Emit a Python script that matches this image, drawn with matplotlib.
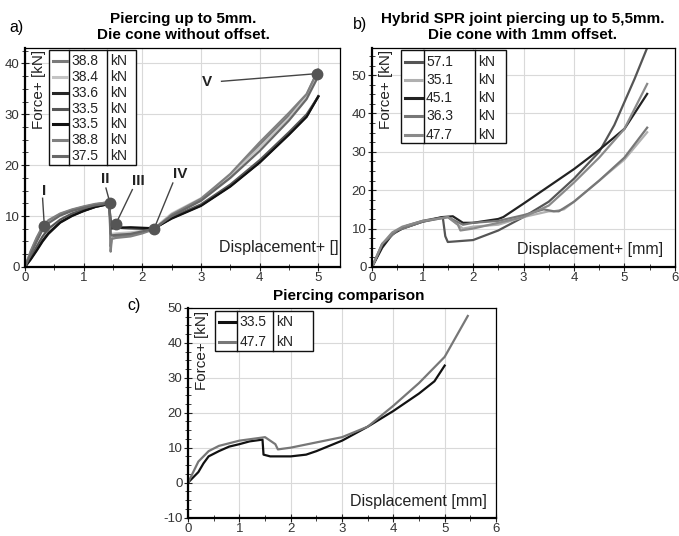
import matplotlib
matplotlib.use("Agg")
import matplotlib.pyplot as plt
from matplotlib.lines import Line2D
from matplotlib.patches import Rectangle
from matplotlib.ticker import MultipleLocator

plt.rcParams["font.family"] = ["Liberation Sans", "DejaVu Sans"]
plt.rcParams["axes.unicode_minus"] = False

# ---- panel a: piercing up to 5 mm, die cone without offset ----
a_x = [0, 0.1, 0.2, 0.3, 0.4, 0.6, 0.8, 1.0, 1.2, 1.44, 1.46, 1.48, 1.55, 1.8, 2.0, 2.2,
       2.5, 3.0, 3.5, 4.0, 4.5, 4.8, 5.0]
a_y_388a = [0, 3.0, 5.6, 7.8, 9.0, 10.4, 11.2, 11.8, 12.3, 12.8, 4.0, 6.0, 6.0, 6.3, 6.8, 7.5,
            10.2, 13.2, 17.8, 24.0, 29.8, 33.8, 38.8]
a_y_384 = [0, 2.8, 5.3, 7.5, 8.8, 10.2, 11.1, 11.7, 12.2, 12.6, 5.0, 6.5, 6.6, 6.8, 7.1, 7.6,
           10.5, 13.5, 18.0, 23.5, 29.3, 33.5, 38.4]
a_y_336 = [0, 1.6, 3.4, 5.2, 6.7, 8.8, 10.1, 11.0, 11.8, 12.4, 7.6, 7.6, 7.7, 7.6, 7.5, 7.5,
           9.6, 12.1, 15.9, 20.6, 26.1, 29.6, 33.6]
a_y_335a = [0, 2.0, 4.0, 6.0, 7.5, 9.3, 10.5, 11.3, 12.0, 12.5, 7.8, 7.7, 7.7, 7.6, 7.6, 7.6,
            9.8, 12.3, 16.2, 21.0, 26.5, 30.0, 33.5]
a_y_335b = [0, 1.5, 3.2, 5.0, 6.5, 8.7, 10.0, 11.0, 11.8, 12.4, 7.5, 7.6, 7.7, 7.8, 7.7, 7.6,
            9.5, 12.0, 15.8, 20.5, 26.0, 29.5, 33.5]
a_y_388b = [0, 3.2, 5.8, 8.0, 9.2, 10.5, 11.3, 11.9, 12.4, 12.7, 3.0, 5.5, 5.7, 6.0, 6.6, 7.4,
            10.3, 13.4, 18.3, 24.5, 30.3, 34.0, 38.8]
a_y_375 = [0, 2.5, 5.0, 7.3, 8.6, 10.1, 11.0, 11.6, 12.1, 12.5, 6.5, 6.2, 6.3, 6.5, 7.0, 7.5,
           10.0, 13.0, 17.5, 22.8, 28.8, 33.0, 37.5]
a_curves = [a_y_388a, a_y_384, a_y_336, a_y_335a, a_y_335b, a_y_388b, a_y_375]
a_labels = ["38.8", "38.4", "33.6", "33.5", "33.5", "38.8", "37.5"]
a_colors = ["#7a7a7a", "#c4c4c4", "#262626", "#555555", "#111111", "#808080", "#686868"]

# stages I..V: marked point and label position
stage_names = ["I", "II", "III", "IV", "V"]
stage_pts_x = [0.33, 1.45, 1.55, 2.2, 4.97]
stage_pts_y = [8.0, 12.5, 8.5, 7.5, 38.0]
stage_txt_x = [0.32, 1.37, 1.93, 2.65, 3.1]
stage_txt_y = [15.0, 17.2, 16.8, 18.2, 36.4]
stage_line_x = [0.3, 1.38, 1.83, 2.52, 3.35]
stage_line_y = [13.5, 15.5, 15.2, 16.5, 36.5]

# ---- panel b: hybrid SPR joint piercing up to 5.5 mm ----
b_x_571 = [0, 0.2, 0.4, 0.7, 1.0, 1.4, 1.45, 1.5, 2.0, 2.5, 3.0, 3.5, 4.0, 4.5, 4.8, 5.0, 5.2, 5.45]
b_y_571 = [0, 5.5, 8.8, 10.8, 12.0, 13.0, 8.0, 6.5, 7.0, 9.5, 13.0, 17.0, 23.0, 30.0, 37.0, 43.0, 49.0, 57.1]
b_x_351 = [0, 0.2, 0.5, 1.0, 1.5, 1.8, 2.0, 2.5, 3.0, 3.5, 3.6, 3.8, 4.0, 4.5, 5.0, 5.45]
b_y_351 = [0, 6.0, 9.5, 11.8, 13.0, 10.0, 10.5, 11.0, 13.0, 14.5, 14.5, 15.0, 17.0, 22.5, 28.0, 35.1]
b_x_451 = [0, 0.2, 0.4, 0.6, 1.0, 1.4, 1.6, 1.8, 2.0, 2.5, 2.6, 3.0, 3.5, 4.0, 4.5, 5.0, 5.45]
b_y_451 = [0, 5.0, 8.5, 10.0, 11.8, 13.0, 13.2, 11.5, 11.5, 12.5, 13.0, 16.5, 21.0, 25.5, 30.5, 36.0, 45.1]
b_x_363 = [0, 0.2, 0.5, 1.0, 1.5, 1.8, 2.0, 2.5, 3.0, 3.4, 3.6, 3.7, 4.0, 4.5, 5.0, 5.45]
b_y_363 = [0, 6.0, 9.5, 11.8, 13.0, 11.0, 11.5, 12.0, 13.5, 15.0, 14.5, 14.5, 17.0, 22.5, 28.5, 36.3]
b_x_477 = [0, 0.2, 0.4, 0.6, 1.0, 1.5, 1.7, 1.75, 2.0, 2.5, 3.0, 3.5, 4.0, 4.5, 5.0, 5.45]
b_y_477 = [0, 6.0, 9.0, 10.5, 12.0, 13.0, 11.0, 9.5, 10.0, 11.5, 13.0, 16.0, 22.0, 28.5, 36.0, 47.7]
b_xs = [b_x_571, b_x_351, b_x_451, b_x_363, b_x_477]
b_ys = [b_y_571, b_y_351, b_y_451, b_y_363, b_y_477]
b_labels = ["57.1", "35.1", "45.1", "36.3", "47.7"]
b_colors = ["#555555", "#b0b0b0", "#222222", "#777777", "#8a8a8a"]

# ---- panel c: comparison ----
c_x_335 = [0, 0.1, 0.2, 0.3, 0.4, 0.6, 0.8, 1.0, 1.2, 1.45, 1.47, 1.6, 2.0, 2.3, 2.5,
           3.0, 3.5, 4.0, 4.5, 4.8, 5.0]
c_y_335 = [0, 1.5, 3.0, 5.5, 7.5, 9.0, 10.3, 11.0, 11.8, 12.3, 8.0, 7.5, 7.5, 8.0, 9.0,
           12.0, 16.0, 20.5, 25.5, 29.0, 33.5]
c_xs = [c_x_335, b_x_477]
c_ys = [c_y_335, b_y_477]
c_labels = ["33.5", "47.7"]
c_colors = ["#111111", "#777777"]


def style_axes(ax, xmax, ymin, ymax, ystep, ylabel_y):
    ax.set_xlim(0, xmax)
    ax.set_ylim(ymin, ymax)
    ax.xaxis.set_major_locator(MultipleLocator(1))
    ax.xaxis.set_minor_locator(MultipleLocator(0.5))
    ax.yaxis.set_major_locator(MultipleLocator(ystep))
    ax.yaxis.set_minor_locator(MultipleLocator(ystep / 4))
    ax.grid(True, which="major", color="#d9d9d9", linewidth=0.8)
    ax.set_axisbelow(True)
    ax.tick_params(which="both", direction="inout", color="#222222", labelcolor="#333333",
                   labelsize=9.5, pad=1)
    ax.tick_params(which="major", length=6)
    ax.tick_params(which="minor", length=4)
    for side in ["top", "right"]:
        ax.spines[side].set_linewidth(0.9)
    for side in ["left", "bottom"]:
        ax.spines[side].set_linewidth(1.6)
    ax.text(0.045, ylabel_y, "Force+ [kN]", rotation=90, transform=ax.transAxes,
            ha="center", va="center", fontsize=11, color="#222222")


def draw_table(ax, box_x, div_x, box_y, rows_y, colors, labels):
    ax.add_patch(Rectangle((box_x[0], box_y[0]), box_x[1] - box_x[0], box_y[1] - box_y[0],
                           transform=ax.transAxes, facecolor="white", edgecolor="#111111",
                           linewidth=1.0, zorder=5))
    for dx in div_x:
        ax.add_line(Line2D([dx, dx], box_y, transform=ax.transAxes, color="#111111",
                           linewidth=1.0, zorder=6))
    sw = div_x[0] - box_x[0]
    for ry, col, lab in zip(rows_y, colors, labels):
        ax.add_line(Line2D([box_x[0] + 0.18 * sw, div_x[0] - 0.08 * sw], [ry, ry],
                           transform=ax.transAxes, color=col, linewidth=2.2, zorder=6))
        ax.text(div_x[0] + 0.008, ry, lab, transform=ax.transAxes, va="center",
                fontsize=10, color="#222222", zorder=7)
        ax.text(div_x[1] + 0.01, ry, "kN", transform=ax.transAxes, va="center",
                fontsize=10, color="#222222", zorder=7)


fig = plt.figure(figsize=(6.79, 5.36), dpi=100)

# panel a
ax_a = fig.add_axes([0.0368, 0.502, 0.464, 0.408])
style_axes(ax_a, 5.37, 0, 43, 10, 0.81)
for ys, col in zip(a_curves, a_colors):
    ax_a.plot(a_x, ys, color=col, linewidth=1.6)
for name, px, py, tx, ty, lx, ly in zip(stage_names, stage_pts_x, stage_pts_y, stage_txt_x,
                                         stage_txt_y, stage_line_x, stage_line_y):
    ax_a.plot([lx, px], [ly, py], color="#444444", linewidth=1.0, zorder=8)
    ax_a.plot(px, py, "o", color="#555555", markersize=7.5, zorder=9)
    ax_a.text(tx, ty, name, ha="center", va="center", fontsize=11, fontweight="bold",
              color="#222222", zorder=9)
draw_table(ax_a, (0.076, 0.352), (0.14, 0.26), (0.466, 0.991),
           [0.94 - 0.072 * i for i in range(7)], a_colors, a_labels)
ax_a.text(0.995, 0.087, "Displacement+ []", transform=ax_a.transAxes, ha="right",
          va="center", fontsize=11.5, color="#222222")
fig.text(0.27, 0.95, "Piercing up to 5mm.\nDie cone without offset.", ha="center",
         va="center", fontsize=11, fontweight="bold", linespacing=1.2)
fig.text(0.025, 0.948, "a)", ha="center", va="center", fontsize=11.5)

# panel b
ax_b = fig.add_axes([0.548, 0.502, 0.446, 0.408])
style_axes(ax_b, 6, 0, 57, 10, 0.81)
for xs, ys, col in zip(b_xs, b_ys, b_colors):
    ax_b.plot(xs, ys, color=col, linewidth=1.6)
draw_table(ax_b, (0.095, 0.443), (0.17, 0.341), (0.566, 0.991),
           [0.936, 0.854, 0.772, 0.688, 0.603], b_colors, b_labels)
ax_b.text(0.96, 0.078, "Displacement+ [mm]", transform=ax_b.transAxes, ha="right",
          va="center", fontsize=11.5, color="#222222")
fig.text(0.77, 0.95, "Hybrid SPR joint piercing up to 5,5mm.\nDie cone with 1mm offset.",
         ha="center", va="center", fontsize=11, fontweight="bold", linespacing=1.2)
fig.text(0.53, 0.955, "b)", ha="center", va="center", fontsize=11.5)

# panel c
ax_c = fig.add_axes([0.277, 0.0345, 0.4535, 0.391])
style_axes(ax_c, 6, -10, 50, 10, 0.795)
for xs, ys, col in zip(c_xs, c_ys, c_colors):
    ax_c.plot(xs, ys, color=col, linewidth=1.6)
draw_table(ax_c, (0.088, 0.406), (0.159, 0.276), (0.795, 0.986),
           [0.933, 0.838], c_colors, c_labels)
ax_c.text(0.97, 0.076, "Displacement [mm]", transform=ax_c.transAxes, ha="right",
          va="center", fontsize=11.5, color="#222222")
fig.text(0.513, 0.448, "Piercing comparison", ha="center", va="center", fontsize=11,
         fontweight="bold")
fig.text(0.198, 0.43, "c)", ha="center", va="center", fontsize=11.5)

fig.savefig("out.png", dpi=100)
